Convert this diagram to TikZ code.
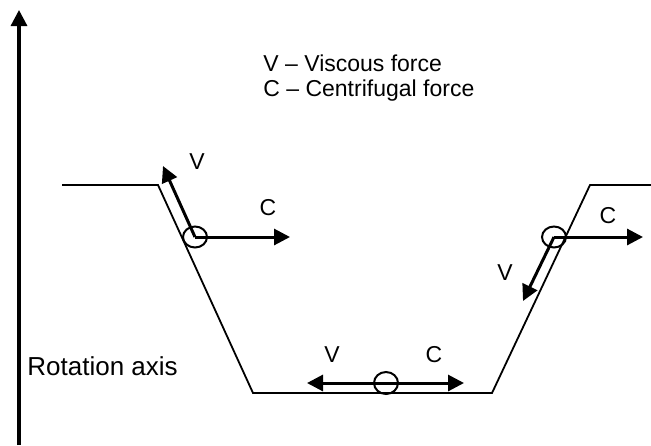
\documentclass[tikz,border=0pt]{standalone}
\usepackage{fontspec}
\setmainfont{Liberation Sans}
\usetikzlibrary{arrows.meta,shapes.geometric}

\begin{document}
\begin{tikzpicture}[
    x=0.5pt, y=-0.5pt,
    force/.style={-{Triangle[length=8pt,width=8pt]}, line width=1.5pt},
    particle/.style={ellipse, draw, line width=1pt, minimum width=12pt,
                     minimum height=10.5pt, inner sep=0pt},
    lbl/.style={inner sep=0pt, font=\fontsize{11.5}{14}\selectfont}
    ]

    \useasboundingbox (0,0) rectangle (651,445);

    % rotation axis
    \coordinate (axbot) at (19,445);
    \coordinate (axtop) at (19,10);
    \draw[line width=1.6pt, -{Triangle[length=8pt,width=8pt]}] (axbot) -- (axtop);
    \node[anchor=base west, inner sep=0pt, font=\fontsize{13}{15}\selectfont] (axis) at (27,375) {Rotation axis};

    % channel profile
    \coordinate (t1) at (62,185);
    \coordinate (t2) at (158,185);
    \coordinate (t3) at (253,393);
    \coordinate (t4) at (492,393);
    \coordinate (t5) at (590,185);
    \coordinate (t6) at (651,185);
    \draw[line width=0.9pt] (t1) -- (t2) -- (t3) -- (t4) -- (t5) -- (t6);

    % legend
    \node[lbl, anchor=base west] (legV) at (263,71) {V -- Viscous force};
    \node[lbl, anchor=base west] (legC) at (263,96) {C -- Centrifugal force};

    % particles
    \node[particle] (pL) at (195,237) {};
    \node[particle] (pR) at (554,237) {};
    \node[particle, minimum height=11pt] (pB) at (386,383) {};

    % force ends
    \coordinate (vL) at (163,166);
    \coordinate (cL) at (290,237);
    \coordinate (vR) at (523,301);
    \coordinate (cR) at (643,237);
    \coordinate (vB) at (307,383);
    \coordinate (cB) at (464,383);

    \draw[force] (pL.center) -- (vL);
    \draw[force] (pL.center) -- (cL);
    \draw[force] (pR.center) -- (vR);
    \draw[force] (pR.center) -- (cR);
    \draw[force] (pB.center) -- (vB);
    \draw[force] (pB.center) -- (cB);

    \node[lbl] (lvL) at (197,162) {V};
    \node[lbl] (lcL) at (268,208) {C};
    \node[lbl] (lvR) at (505,273) {V};
    \node[lbl] (lcR) at (608,216) {C};
    \node[lbl] (lvB) at (332,355) {V};
    \node[lbl] (lcB) at (434,355) {C};

\end{tikzpicture}
\end{document}
